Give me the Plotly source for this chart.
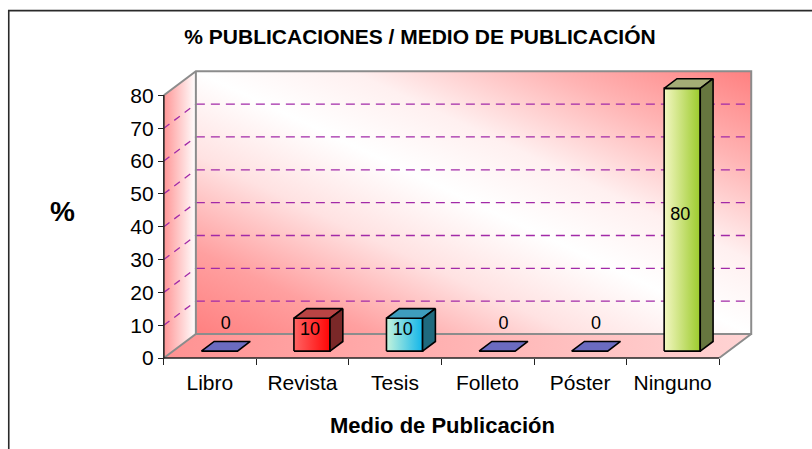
import base64
import plotly.graph_objects as go

# ---------------- data ----------------
categorias = ["Libro", "Revista", "Tesis", "Folleto", "Póster", "Ninguno"]
valores = [0, 10, 10, 0, 0, 80]
y_ticks = [0, 10, 20, 30, 40, 50, 60, 70, 80]
titulo = "% PUBLICACIONES / MEDIO DE PUBLICACIÓN"
titulo_x = "Medio de Publicación"
titulo_y = "%"

# ---------------- styles ----------------
FONT = "Liberation Sans, Arial, sans-serif"
estilo_barras = {
    "Revista": dict(front=("#ff6464", "#ff0606"), top="#b94444", side="#7a2828"),
    "Tesis": dict(front=("#c4f3dc", "#12b6ea"), top="#3e9dbd", side="#1f6a7e"),
    "Ninguno": dict(front=("#f3f7c2", "#9ccb2c"), top="#a4ad76", side="#66763f"),
}
slab_color = "#6b6bc0"
grid_color = "#a22aa8"
edge_gray = "#8c8c8c"

# ---------------- projection (pseudo 3D) ----------------
SX = 92.5   # px per category
SY = 3.28   # px per value unit
DX = 32 / SX
DY = 24 / SY
F1, F2 = 0.29, 0.69
W = 0.39
YTOP = y_ticks[-1]
n = len(categorias)
XL, XR = -0.5, n - 0.5

XMIN, XMAX = XL - 0.02, XR + DX + 0.03
YMIN, YMAX = -1.2, YTOP + DY + 1.0

L = 164 + (XMIN - XL) * SX
R = L + (XMAX - XMIN) * SX
B = 358 - YMIN * SY
T = B - (YMAX - YMIN) * SY


def xp(px):
    return (px - L) / (R - L)


def yp(py):
    return (B - py) / (B - T)


def poly(xs, ys, **kw):
    return go.Scatter(x=list(xs) + [xs[0]], y=list(ys) + [ys[0]], mode="lines",
                      fill="toself", hoverinfo="skip", showlegend=False, **kw)


fig = go.Figure()

# side wall
fig.add_trace(poly([XL, XL, XL + DX, XL + DX], [0, YTOP, YTOP + DY, DY],
                   line=dict(width=0),
                   fillgradient=dict(type="horizontal",
                                     colorscale=[[0, "#ff9696"], [1, "#ffffff"]])))
# floor
fig.add_trace(poly([XL, XR, XR + DX, XL + DX], [0, 0, DY, DY],
                   line=dict(width=0),
                   fillgradient=dict(type="horizontal",
                                     colorscale=[[0, "#ff9292"], [1, "#ffd4d4"]])))

# gridlines (back wall + side wall)
gx, gy, sx, sy = [], [], [], []
for v in y_ticks[1:-1]:
    gx += [XL + DX, XR + DX, None]
    gy += [v + DY, v + DY, None]
    sx += [XL, XL + DX, None]
    sy += [v, v + DY, None]
fig.add_trace(go.Scatter(x=gx, y=gy, mode="lines", hoverinfo="skip", showlegend=False,
                         line=dict(color=grid_color, width=1.3, dash="9px,6px")))
fig.add_trace(go.Scatter(x=sx, y=sy, mode="lines", hoverinfo="skip", showlegend=False,
                         line=dict(color=grid_color, width=1.3, dash="7px,6px")))

# gray wall edges
ex = [XL, XL + DX, XR + DX, XR + DX, XL + DX, XL + DX, None, XL, XL + DX, XR + DX, XR, None]
ey = [YTOP, YTOP + DY, YTOP + DY, DY, DY, YTOP + DY, None, 0, DY, DY, 0, None]
fig.add_trace(go.Scatter(x=ex, y=ey, mode="lines", hoverinfo="skip", showlegend=False,
                         line=dict(color=edge_gray, width=2)))

# front axis edges (black)
fig.add_trace(go.Scatter(x=[XL, XL, None, XL, XR], y=[YTOP, 0, None, 0, 0], mode="lines",
                         hoverinfo="skip", showlegend=False,
                         line=dict(color="#222222", width=1.6)))

# bars
dX = (F2 - F1) * DX
dY = (F2 - F1) * DY
lab_x, lab_y, lab_t = [], [], []
for i, (cat, v) in enumerate(zip(categorias, valores)):
    x0 = i - W / 2 + F1 * DX
    x1 = x0 + W
    y0 = F1 * DY
    y1 = y0 + v
    ol = dict(color="black", width=1.6)
    if v == 0:
        fig.add_trace(poly([x0, x1, x1 + dX, x0 + dX], [y0, y0, y0 + dY, y0 + dY],
                           line=ol, fillcolor=slab_color))
        lab_x.append(i + (F1 + F2) / 2 * DX)
        lab_y.append(y0 + dY / 2 + 6.7)
    else:
        st = estilo_barras[cat]
        fig.add_trace(poly([x0, x1, x1, x0], [y0, y0, y1, y1], line=ol,
                           fillgradient=dict(type="horizontal",
                                             colorscale=[[0, st["front"][0]], [1, st["front"][1]]])))
        fig.add_trace(poly([x0, x1, x1 + dX, x0 + dX], [y1, y1, y1 + dY, y1 + dY],
                           line=ol, fillcolor=st["top"]))
        fig.add_trace(poly([x1, x1 + dX, x1 + dX, x1], [y0, y0 + dY, y1 + dY, y1],
                           line=ol, fillcolor=st["side"]))
        lab_x.append((x0 + x1) / 2 - 0.02)
        lab_y.append(y0 + v / 2 + 1.2)
    lab_t.append(str(v))

fig.add_trace(go.Scatter(x=lab_x, y=lab_y, text=lab_t, mode="text", textposition="middle center",
                         textfont=dict(family=FONT, size=18, color="black"),
                         hoverinfo="skip", showlegend=False, cliponaxis=False))

# back wall gradient (diagonal, red corners / white diagonal)
svg = ("<svg xmlns='http://www.w3.org/2000/svg' width='600' height='300' viewBox='0 0 600 300' "
       "preserveAspectRatio='none'><defs><linearGradient id='g' x1='0' y1='1' x2='1' y2='0'>"
       "<stop offset='0' stop-color='#ff8080'/><stop offset='0.16' stop-color='#ffa0a0'/>"
       "<stop offset='0.34' stop-color='#ffe2e2'/><stop offset='0.5' stop-color='#ffffff'/>"
       "<stop offset='0.64' stop-color='#fff0f0'/><stop offset='0.82' stop-color='#ffb4b4'/>"
       "<stop offset='1' stop-color='#ff8080'/></linearGradient></defs>"
       "<rect width='600' height='300' fill='url(#g)'/></svg>")
src = "data:image/svg+xml;base64," + base64.b64encode(svg.encode()).decode()

fig.update_layout(
    width=812, height=449,
    margin=dict(l=L, r=812 - R, t=T, b=449 - B, pad=0, autoexpand=False),
    paper_bgcolor="white", plot_bgcolor="rgba(0,0,0,0)",
    font=dict(family=FONT, color="black"),
    images=[dict(source=src, xref="x", yref="y", x=XL + DX, y=YTOP + DY,
                 sizex=XR - XL, sizey=YTOP, sizing="stretch", layer="below",
                 xanchor="left", yanchor="top")],
    title=dict(text="<b>" + titulo + "</b>", x=420 / 812, y=1 - 37 / 449,
               xanchor="center", yanchor="middle", xref="container", yref="container",
               font=dict(family=FONT, size=21, color="black")),
    xaxis=dict(range=[XMIN, XMAX], showgrid=False, zeroline=False, showline=False,
               tickmode="array", tickvals=[k - 0.5 for k in range(n + 1)],
               ticktext=categorias + [""], ticks="outside", ticklen=6, tickcolor="#222",
               ticklabelshift=int(SX / 2), ticklabelstandoff=0,
               tickfont=dict(family=FONT, size=21, color="black"),
               anchor="free", position=(0 - YMIN) / (YMAX - YMIN), fixedrange=True),
    yaxis=dict(range=[YMIN, YMAX], showgrid=False, zeroline=False, showline=False,
               tickmode="array", tickvals=y_ticks, ticks="outside", ticklen=6, tickcolor="#222",
               ticklabelstandoff=0,
               tickfont=dict(family=FONT, size=21, color="black"),
               anchor="free", position=(XL - XMIN) / (XMAX - XMIN), fixedrange=True),
    annotations=[
        dict(text="<b>" + titulo_y + "</b>", x=xp(63), y=yp(212), xref="paper", yref="paper",
             showarrow=False, font=dict(family=FONT, size=28, color="black"),
             xanchor="center", yanchor="middle"),
        dict(text="<b>" + titulo_x + "</b>", x=xp(442), y=yp(425), xref="paper", yref="paper",
             showarrow=False, font=dict(family=FONT, size=22, color="black"),
             xanchor="center", yanchor="middle"),
    ],
    shapes=[dict(type="rect", xref="paper", yref="paper", x0=xp(9), y0=yp(11),
                 x1=xp(900), y1=yp(520), line=dict(color="#2a2a2a", width=1.6),
                 fillcolor="rgba(0,0,0,0)", layer="above")],
)

fig.write_html("out.html", config={"displayModeBar": False},
               post_script="document.body.style.margin='0';")
